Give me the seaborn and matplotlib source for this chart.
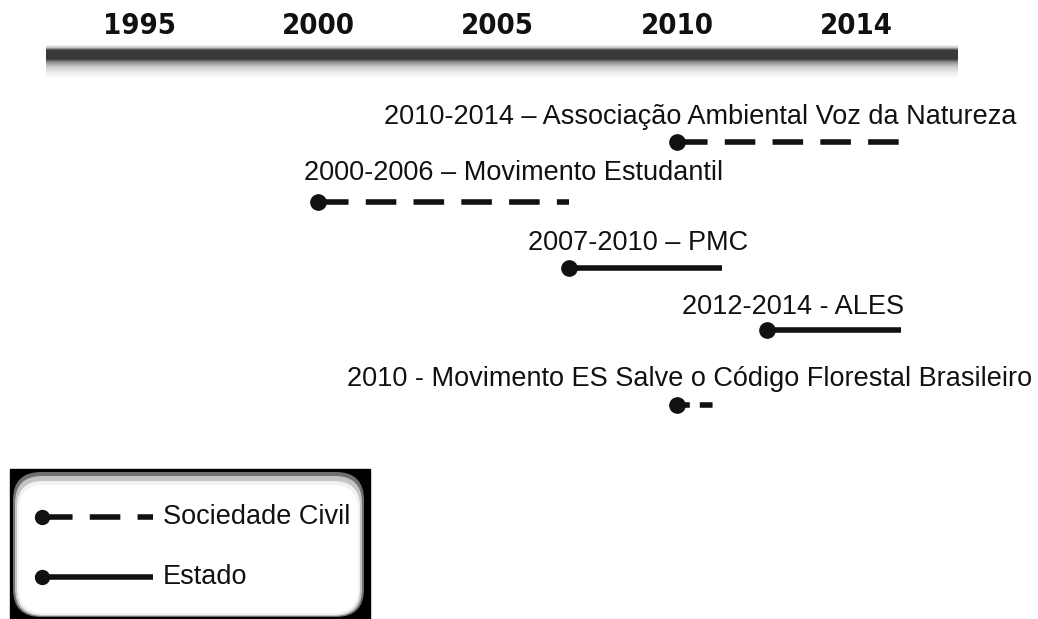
import numpy as np
import pandas as pd
import matplotlib
matplotlib.use('Agg')
import matplotlib.pyplot as plt
import seaborn as sns
from matplotlib import font_manager
from matplotlib.patches import Rectangle, FancyBboxPatch

# timeline ticks
tick_years = [1995, 2000, 2005, 2010, 2014]
tick_labels = ['1995', '2000', '2005', '2010', '2014']

# events (start / end year, inclusive)
event_labels = [
    '2010-2014 – Associação Ambiental Voz da Natureza',
    '2000-2006 – Movimento Estudantil',
    '2007-2010 – PMC',
    '2012-2014 - ALES',
    '2010 - Movimento ES Salve o Código Florestal Brasileiro',
]
start_year = [2010, 2000, 2007, 2012, 2010]
end_year = [2014, 2006, 2010, 2014, 2010]
actor = ['Sociedade Civil', 'Sociedade Civil', 'Estado', 'Estado', 'Sociedade Civil']
legend_labels = ['Sociedade Civil', 'Estado']

df = pd.DataFrame({'event': event_labels, 'start': start_year,
                   'end': end_year, 'actor': actor})

# layout (pixels)
W, H = 1038, 619
slot0_px, slot_px = 139, 179.3
line_y = [142, 202, 268, 330, 405]
label_y = [117, 173, 243, 307, 379]
label_cx = [700, 514, 638, 793, 690]

sns.set_theme(style='white')
plt.rcParams['font.family'] = ['Liberation Sans', 'DejaVu Sans']

# condensed bold face for the year labels if one is installed
fonts = font_manager.fontManager.ttflist
narrow = [f for f in fonts if f.name == 'Liberation Sans Narrow']
condensed = [f for f in fonts if f.name == 'DejaVu Sans' and 'Condensed' in f.fname]
if narrow:
    year_kw = dict(family='Liberation Sans Narrow', fontsize=23)
elif condensed:
    year_kw = dict(family='DejaVu Sans', stretch='condensed', fontsize=21)
else:
    year_kw = dict(family='Liberation Sans', fontsize=22)

black = '#111111'
long_dash = (0, (5.5, 3.1))
short_dash = (0, (2.3, 1.8))


def line_style(who, span):
    if who == 'Estado':
        return '-'
    return long_dash if span > 1 else short_dash


# piecewise year -> slot scale (ticks equally spaced)
bp_years = [1900] + tick_years + [2100]
bp_slots = [-19, 0, 1, 2, 3, 4, 4 + 86 / 4]


def fwd(y):
    return np.interp(y, bp_years, bp_slots)


def inv(s):
    return np.interp(s, bp_slots, bp_years)


fig = plt.figure(figsize=(W / 100, H / 100), dpi=100)
fig.patch.set_facecolor('white')

# background axes in pixel units: bar and legend box
bax = fig.add_axes([0, 0, 1, 1])
bax.set_xlim(0, W)
bax.set_ylim(H, 0)
bax.axis('off')

prof_y = np.arange(44, 80)
alpha = np.interp(prof_y, [44, 47, 50, 59, 62, 67, 73, 79],
                  [0, 0.2, 0.78, 0.78, 0.45, 0.2, 0.07, 0])
img = np.zeros((len(prof_y), 1, 4))
img[:, 0, 3] = alpha
bax.imshow(img, extent=(46, 958, 79, 44), aspect='auto', interpolation='bilinear', zorder=1)

# legend box
bax.add_patch(Rectangle((10, 469), 360, 150, color='black', zorder=2))
bax.add_patch(FancyBboxPatch((13, 472), 351, 145, boxstyle='round,pad=0,rounding_size=28',
                             color='#707070', zorder=3, lw=0))
bax.add_patch(FancyBboxPatch((15, 476), 347, 140, boxstyle='round,pad=0,rounding_size=27',
                             color='#c4c4c4', zorder=4, lw=0))
bax.add_patch(FancyBboxPatch((17, 481), 343, 134, boxstyle='round,pad=0,rounding_size=26',
                             color='#f2f2f2', zorder=5, lw=0))
bax.add_patch(FancyBboxPatch((19, 485), 339, 128, boxstyle='round,pad=0,rounding_size=25',
                             color='white', zorder=6, lw=0))
for lab, ly in zip(legend_labels, [517, 577]):
    bax.plot([42, 153], [ly, ly], color=black, lw=4, ls=line_style(lab, 4),
             solid_capstyle='butt', dash_capstyle='butt', zorder=7)
    bax.plot([42], [ly], 'o', color=black, ms=10, zorder=8)
    bax.text(163, ly, lab, fontsize=19.5, va='center', ha='left', color=black, zorder=8)

# main timeline axes in year units
ax = fig.add_axes([0, 0, 1, 1])
ax.patch.set_alpha(0)
ax.set_xscale('function', functions=(fwd, inv))
ax.set_xlim(inv(-slot0_px / slot_px), inv((W - slot0_px) / slot_px))
ax.set_ylim(H, 0)
ax.axis('off')

for yr, lab in zip(tick_years, tick_labels):
    ax.text(yr, 26, lab, fontweight='bold', ha='center', va='center', color=black, **year_kw)

for i, row in df.iterrows():
    span = row['end'] + 1 - row['start']
    ax.plot([row['start'], row['end'] + 1], [line_y[i], line_y[i]], color=black, lw=4,
            ls=line_style(row['actor'], span), solid_capstyle='butt', dash_capstyle='butt')
    ax.plot([row['start']], [line_y[i]], 'o', color=black, ms=11)
    ax.text(inv((label_cx[i] - slot0_px) / slot_px), label_y[i], row['event'],
            fontsize=19.5, ha='center', va='center', color=black)

fig.savefig('out.png', dpi=100, facecolor='white')
